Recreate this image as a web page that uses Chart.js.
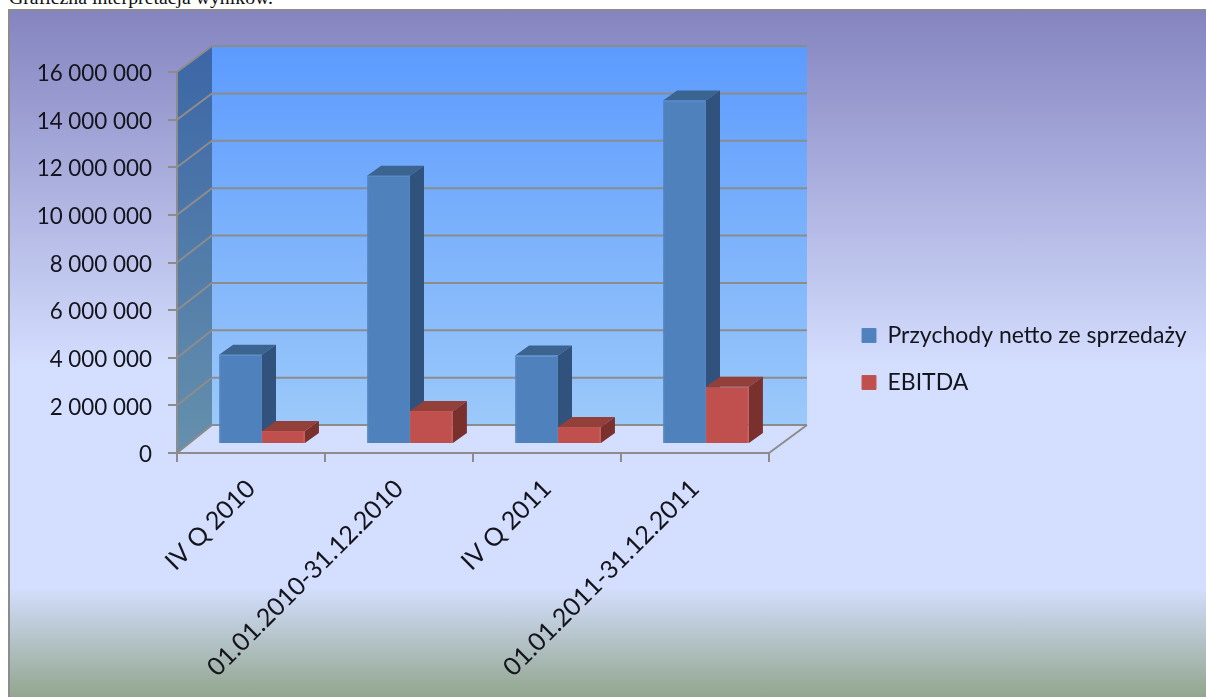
<!DOCTYPE html>
<html lang="pl">
<head>
<meta charset="utf-8">
<title>Graficzna interpretacja wyników</title>
<script src="https://cdn.jsdelivr.net/npm/chart.js@4/dist/chart.umd.js"></script>
<style>
  html, body { margin: 0; padding: 0; background: #fff; overflow: hidden; }
  #page { position: relative; width: 1206px; height: 697px; overflow: hidden; }
  #heading {
    position: absolute; left: 9px; top: -14px; white-space: nowrap;
    font: 19.8px "Liberation Serif", serif; color: #111;
  }
  #frame {
    position: absolute; left: 8px; top: 9px; width: 1198px; height: 688px;
    box-sizing: border-box; border: 2px solid #8c8c8c; border-right: 0; border-bottom: 0;
    background: linear-gradient(180deg, #8584c0 0%, #d4defe 52%, #d4defe 84%, #92a68e 100%);
  }
  canvas { position: absolute; left: 0; top: 0; }
</style>
</head>
<body>
<div id="page">
  <div id="heading">Graficzna interpretacja wyników.</div>
  <div id="frame"></div>
  <canvas id="chart" width="1206" height="697"></canvas>
</div>
<script>
// --- data ---
const categories = ['IV Q 2010', '01.01.2010-31.12.2010', 'IV Q 2011', '01.01.2011-31.12.2011'];
const przychody = [3750000, 11270000, 3720000, 14420000];
const ebitda = [550000, 1390000, 710000, 2400000];

const GREY = '#8c8c8c';
const FONT = 'Lato';
const TEXT = '#14141c';

// fake 3D depth of the box and of the bars
const WALL_DX = 35, WALL_DX_RIGHT = 38;
const BAR_SHIFT_X = 11, BAR_SHIFT_Y = -9;
const BAR_DX = 14, BAR_DY = -10;

const backY = (y, area) => y - 26 - 2 * (y - area.top) / (area.bottom - area.top);

function poly(ctx, pts, fill) {
  ctx.beginPath();
  pts.forEach((p, i) => i ? ctx.lineTo(p[0], p[1]) : ctx.moveTo(p[0], p[1]));
  ctx.closePath();
  ctx.fillStyle = fill;
  ctx.fill();
}

const box3d = {
  id: 'box3d',
  afterLayout(chart) {
    // park the legend to the right of the box
    Object.assign(chart.legend, { left: 838, right: 1206, top: 300, bottom: 600 });
  },
  beforeDraw(chart) {
    const { ctx, chartArea: a, scales } = chart;
    const backL = a.left + WALL_DX, backR = a.right + WALL_DX_RIGHT;
    const topB = backY(a.top, a), botB = backY(a.bottom, a);
    ctx.save();

    let g = ctx.createLinearGradient(0, topB, 0, botB);
    g.addColorStop(0, '#5c9bfe');
    g.addColorStop(1, '#9cc9fa');
    ctx.fillStyle = g;
    ctx.fillRect(backL, topB, backR - backL, botB - topB);

    g = ctx.createLinearGradient(0, topB, 0, a.bottom);
    g.addColorStop(0, '#3c66a6');
    g.addColorStop(1, '#6690ac');
    poly(ctx, [[a.left, a.top], [backL, topB], [backL, botB], [a.left, a.bottom]], g);

    ctx.strokeStyle = GREY;
    ctx.lineWidth = 2;
    scales.y.ticks.forEach(t => {
      const y = scales.y.getPixelForValue(t.value);
      const by = backY(y, a);
      ctx.beginPath();
      ctx.moveTo(a.left, y);
      ctx.lineTo(backL, by);
      ctx.lineTo(backR, by);
      ctx.stroke();
    });
    ctx.beginPath();
    ctx.moveTo(a.right, a.bottom);
    ctx.lineTo(backR, botB);
    ctx.stroke();
    ctx.restore();
  },
  // tops and sides go first, blue before red, so red sits in front of blue's side
  beforeDatasetsDraw(chart) {
    const { ctx } = chart;
    ctx.save();
    ctx.translate(BAR_SHIFT_X, BAR_SHIFT_Y);
    chart.data.datasets.forEach((ds, i) => {
      chart.getDatasetMeta(i).data.forEach(bar => {
        const l = bar.x - bar.width / 2, r = bar.x + bar.width / 2;
        poly(ctx, [[l, bar.y], [l + BAR_DX, bar.y + BAR_DY], [r + BAR_DX, bar.y + BAR_DY], [r, bar.y]], ds.topColor);
        poly(ctx, [[r, bar.y], [r + BAR_DX, bar.y + BAR_DY], [r + BAR_DX, bar.base + BAR_DY], [r, bar.base]], ds.sideColor);
      });
    });
    ctx.restore();
  },
  beforeDatasetDraw(chart) {
    chart.ctx.save();
    chart.ctx.translate(BAR_SHIFT_X, BAR_SHIFT_Y);
  },
  afterDatasetDraw(chart) {
    chart.ctx.restore();
  }
};

new Chart(document.getElementById('chart'), {
  type: 'bar',
  data: {
    labels: categories,
    datasets: [
      { label: 'Przychody netto ze sprzedaży', data: przychody,
        backgroundColor: '#4f81bd', borderColor: '#5485c0', borderWidth: 1,
        topColor: '#3b6491', sideColor: '#31527c' },
      { label: 'EBITDA', data: ebitda,
        backgroundColor: '#c0504d', borderColor: '#c45652', borderWidth: 1,
        topColor: '#933f3a', sideColor: '#7a312e' }
    ]
  },
  plugins: [box3d],
  options: {
    responsive: false,
    animation: false,
    devicePixelRatio: 1,
    layout: { padding: { top: 72, right: 437 } },
    categoryPercentage: 0.58,
    barPercentage: 1,
    plugins: {
      tooltip: { enabled: false },
      legend: {
        position: 'chartArea',
        align: 'start',
        labels: {
          color: TEXT,
          font: { family: FONT, size: 23 },
          boxWidth: 14,
          boxHeight: 14,
          padding: 24
        }
      }
    },
    scales: {
      x: {
        offset: true,
        afterFit(s) { s.height = 244; },
        grid: { offset: true, drawOnChartArea: false, color: GREY, lineWidth: 2, tickLength: 9 },
        border: { color: GREY, width: 2 },
        ticks: { color: TEXT, font: { family: FONT, size: 25 }, minRotation: 45, maxRotation: 45, padding: 12 }
      },
      y: {
        min: 0,
        max: 16000000,
        afterFit(s) { s.width = 177; },
        grid: { drawOnChartArea: false, color: GREY, lineWidth: 2, tickLength: 9 },
        border: { color: GREY, width: 2 },
        ticks: {
          stepSize: 2000000,
          color: TEXT,
          padding: 16,
          labelOffset: 2,
          font: { family: FONT, size: 22.4 },
          callback: v => String(v).replace(/\B(?=(\d{3})+$)/g, ' ')
        }
      }
    }
  }
});
</script>
</body>
</html>
